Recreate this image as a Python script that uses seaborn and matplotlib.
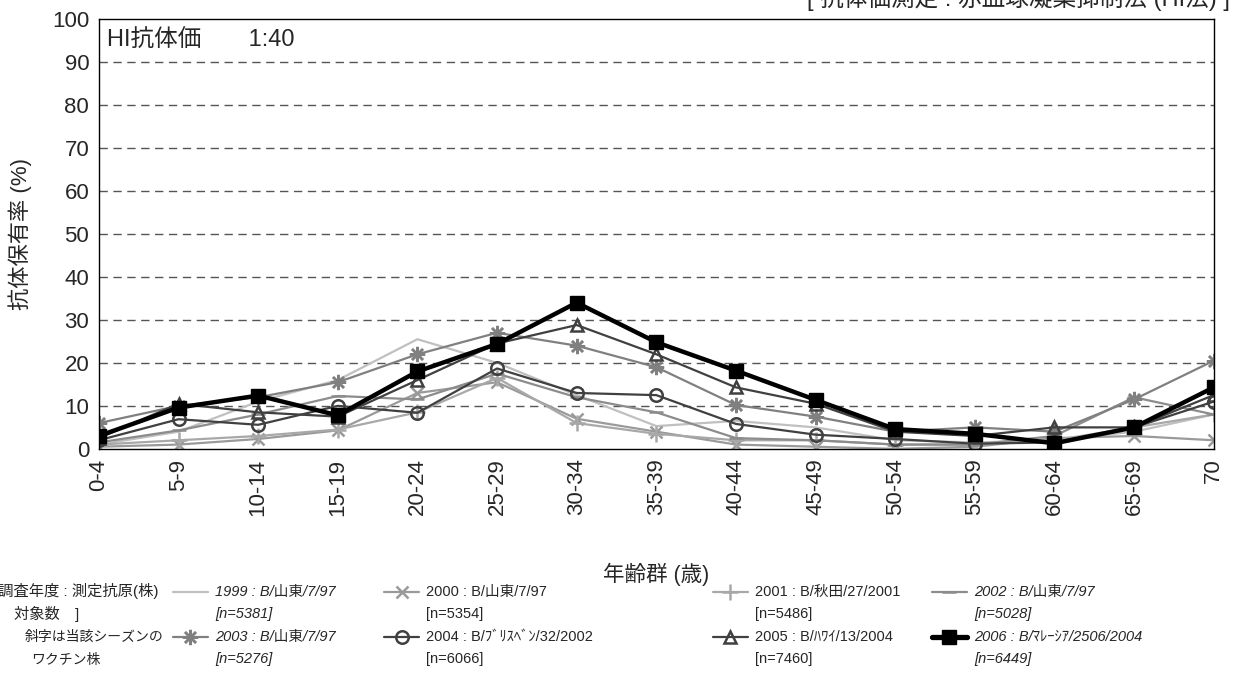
import numpy as np
import pandas as pd
import matplotlib.pyplot as plt
import seaborn as sns
from matplotlib.lines import Line2D

# age groups and antibody prevalence (%) per survey year
age_groups = ["0-4", "5-9", "10-14", "15-19", "20-24", "25-29", "30-34", "35-39",
              "40-44", "45-49", "50-54", "55-59", "60-64", "65-69", "70"]

y1999 = [1.0, 4.0, 11.0, 16.0, 25.5, 20.0, 12.5, 5.3, 6.5, 5.0, 2.0, 1.5, 2.0, 4.0, 8.0]
y2000 = [0.5, 1.0, 2.3, 4.3, 13.0, 15.5, 7.0, 4.0, 1.0, 0.5, 0.0, 0.5, 2.5, 3.0, 2.0]
y2001 = [1.0, 2.0, 3.0, 4.5, 8.5, 16.5, 6.0, 3.5, 2.0, 2.0, 1.0, 1.0, 2.0, 5.0, 8.0]
y2002 = [1.5, 4.3, 8.0, 12.3, 11.5, 17.5, 12.0, 8.5, 2.5, 2.0, 1.0, 1.0, 3.0, 12.0, 8.0]
y2003 = [6.0, 10.0, 12.0, 15.5, 22.0, 27.0, 24.0, 19.0, 10.2, 7.5, 4.0, 5.0, 4.0, 11.5, 20.5]
y2004 = [2.0, 6.9, 5.6, 10.0, 8.4, 18.7, 13.0, 12.5, 5.8, 3.3, 2.3, 1.2, 1.5, 5.0, 11.0]
y2005 = [2.5, 10.5, 8.5, 7.5, 16.0, 24.5, 28.8, 22.0, 14.3, 10.5, 4.0, 3.0, 5.0, 5.0, 12.5]
y2006 = [3.0, 9.6, 12.4, 7.8, 18.0, 24.4, 34.0, 24.8, 18.2, 11.4, 4.6, 3.5, 1.3, 5.0, 14.3]

years = ["1999", "2000", "2001", "2002", "2003", "2004", "2005", "2006"]
strains = ["B/山東/7/97", "B/山東/7/97", "B/秋田/27/2001", "B/山東/7/97",
           "B/山東/7/97", "B/ﾌﾞﾘｽﾍﾞﾝ/32/2002", "B/ﾊﾜｲ/13/2004", "B/ﾏﾚｰｼｱ/2506/2004"]
counts = ["5381", "5354", "5486", "5028", "5276", "6066", "7460", "6449"]
vaccine_year = [True, False, False, True, True, False, False, True]

df = pd.DataFrame({"age": age_groups, "1999": y1999, "2000": y2000, "2001": y2001,
                   "2002": y2002, "2003": y2003, "2004": y2004, "2005": y2005, "2006": y2006})
df["pos"] = np.arange(len(age_groups))

sns.set_theme(style="white")
plt.rcParams['font.family'] = ['Liberation Sans', 'Noto Sans CJK JP', 'DejaVu Sans']

# line style per series
styles = {
    "1999": dict(color="#c0c0c0", marker=None, lw=1.6, ms=0, mfc="none"),
    "2000": dict(color="#9a9a9a", marker="x", lw=1.6, ms=9, mfc="none"),
    "2001": dict(color="#a8a8a8", marker="+", lw=1.6, ms=11, mfc="none"),
    "2002": dict(color="#8c8c8c", marker="_", lw=1.6, ms=10, mfc="none"),
    "2003": dict(color="#808080", marker=(8, 2, 0), lw=1.6, ms=11, mfc="none"),
    "2004": dict(color="#404040", marker="o", lw=1.6, ms=9, mfc="none"),
    "2005": dict(color="#404040", marker="^", lw=1.6, ms=9, mfc="none"),
    "2006": dict(color="#000000", marker="s", lw=3.2, ms=10, mfc="#000000"),
}

fig = plt.figure(figsize=(12.36, 6.75), dpi=100)
ax = fig.add_axes([0.080, 0.335, 0.902, 0.637])

for yr in years:
    st = styles[yr]
    sns.lineplot(data=df, x="pos", y=yr, ax=ax, color=st["color"], linewidth=st["lw"],
                 marker=st["marker"], markersize=st["ms"], markerfacecolor=st["mfc"],
                 markeredgecolor=st["color"], markeredgewidth=1.8 if yr != "2006" else 1.0)

ax.set_xlim(0, len(age_groups) - 1)
ax.set_ylim(0, 100)
ax.set_yticks(range(0, 101, 10))
ax.set_yticklabels([str(v) for v in range(0, 101, 10)], fontsize=16)
ax.set_xticks(df["pos"])
ax.set_xticklabels(age_groups, rotation=90, fontsize=16)
ax.tick_params(axis="both", length=0, pad=7)
for v in range(10, 100, 10):
    ax.axhline(v, color="#555555", lw=1.0, ls=(0, (6, 4)), zorder=0)
for s in ax.spines.values():
    s.set_color("black")
    s.set_linewidth(1.0)

ax.set_xlabel("年齢群 (歳)", fontsize=15.5, labelpad=34)
ax.set_ylabel("抗体保有率 (%)", fontsize=16, labelpad=14)
ax.text(0.007, 0.975, "HI抗体価　　1:40", transform=ax.transAxes, fontsize=17,
        va="top", ha="left")

fig.text(0.995, 1.002, "[ 抗体価測定 : 赤血球凝集抑制法 (HI法) ]", fontsize=17,
         ha="right", va="center")

# legend block
fs = 10.5
fig.text(0.128, 0.125, "[調査年度 : 測定抗原(株)", fontsize=fs + 0.5, va="center", ha="right")
fig.text(0.011, 0.090, "対象数　]", fontsize=fs + 0.5, va="center", ha="left")
fig.text(0.020, 0.057, "斜字は当該シーズンの", fontsize=10, va="center", ha="left")
fig.text(0.025, 0.022, "ワクチン株", fontsize=10, va="center", ha="left")

col_x = [0.140, 0.311, 0.577, 0.754]
row_y = [0.123, 0.057]
for i, yr in enumerate(years):
    st = styles[yr]
    cx = col_x[i % 4]
    ry = row_y[i // 4]
    fig.add_artist(Line2D([cx, cx + 0.028], [ry, ry], transform=fig.transFigure,
                          color=st["color"], lw=st["lw"] + (0.6 if yr == "2006" else 0)))
    if st["marker"] is not None:
        fig.add_artist(Line2D([cx + 0.014], [ry], transform=fig.transFigure,
                              color=st["color"], marker=st["marker"], markersize=st["ms"],
                              markerfacecolor=st["mfc"], markeredgecolor=st["color"],
                              markeredgewidth=1.8 if yr != "2006" else 1.0, lw=0))
    style = "italic" if vaccine_year[i] else "normal"
    fig.text(cx + 0.034, ry, f"{yr} : {strains[i]}", fontsize=fs, style=style,
             va="center", ha="left")
    fig.text(cx + 0.034, ry - 0.033, f"[n={counts[i]}]", fontsize=fs, style=style,
             va="center", ha="left")

fig.savefig("out.png", dpi=100)
